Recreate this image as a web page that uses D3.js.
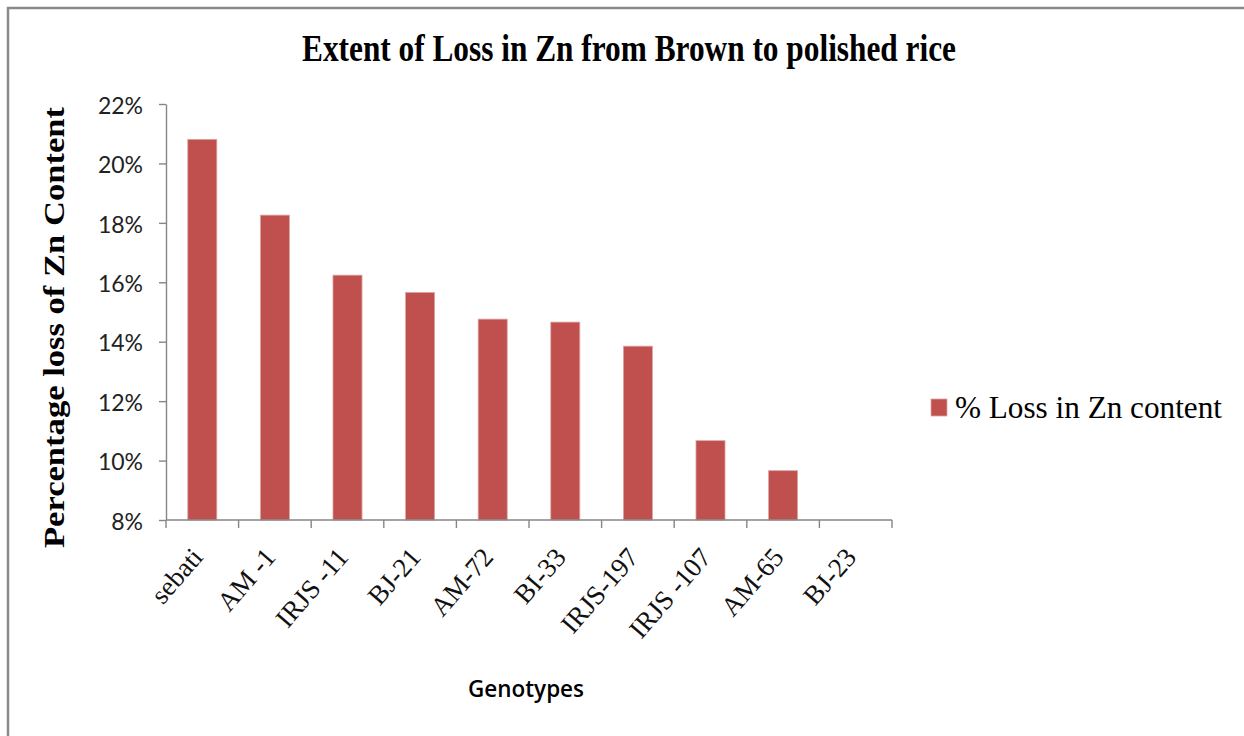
<!DOCTYPE html>
<html>
<head>
<meta charset="utf-8">
<script src="https://cdn.jsdelivr.net/npm/d3@7"></script>
<style>
  html, body { margin: 0; padding: 0; background: #ffffff; }
  svg { display: block; }
</style>
</head>
<body>
<svg id="chart" width="1244" height="736"></svg>
<script>
// Zn loss (%) for each rice genotype, brown -> polished
const genotypes = ["sebati", "AM -1", "IRJS -11", "BJ-21", "AM-72", "BI-33", "IRJS-197", "IRJS -107", "AM-65", "BJ-23"];
const lossValues = [20.81, 18.26, 16.24, 15.66, 14.76, 14.66, 13.85, 10.67, 9.66, 7.9];
const yTicks = [8, 10, 12, 14, 16, 18, 20, 22];

const chartTitle = "Extent of Loss in Zn from Brown to polished rice";
const yTitle = "Percentage loss of Zn Content";
const xTitle = "Genotypes";
const seriesName = "% Loss in Zn content";

const barColor = "#c0504d";
const axisColor = "#868686";

const svg = d3.select("#chart");

// outer frame (left and top edges)
svg.append("path")
  .attr("d", "M8,736 V8 H1244")
  .attr("fill", "none")
  .attr("stroke", "#8a8a8a")
  .attr("stroke-width", 2.5);

const plot = { left: 166, right: 892, top: 104, bottom: 520 };

const x = d3.scaleBand()
  .domain(genotypes)
  .range([plot.left, plot.right])
  .padding(0);

const y = d3.scaleLinear()
  .domain([8, 22])
  .range([plot.bottom, plot.top]);

// bars (clipped at the 8% floor)
const barW = x.bandwidth() * 0.4;
svg.append("g")
  .selectAll("rect")
  .data(genotypes.map((g, i) => ({ g, v: lossValues[i] })).filter(d => d.v > 8))
  .join("rect")
  .attr("x", d => x(d.g) + (x.bandwidth() - barW) / 2)
  .attr("y", d => y(d.v))
  .attr("width", barW)
  .attr("height", d => y(8) - y(d.v))
  .attr("fill", barColor)
  .attr("stroke", "#dca5a4")
  .attr("stroke-width", 0.8);

// y axis
const yAxis = d3.axisLeft(y)
  .tickValues(yTicks)
  .tickFormat(d => d + "%")
  .tickSize(7)
  .tickPadding(16)
  .tickSizeOuter(0);

const gy = svg.append("g")
  .attr("transform", `translate(${plot.left},0)`)
  .call(yAxis);
gy.select(".domain").attr("stroke", axisColor).attr("stroke-width", 1.4);
gy.selectAll(".tick line").attr("stroke", axisColor).attr("stroke-width", 1.4);
gy.selectAll(".tick text")
  .attr("fill", "#222")
  .attr("font-family", "Lato, 'Open Sans', sans-serif")
  .attr("font-size", 23)
  .attr("dy", "0.4em");

// x axis: line with ticks at category boundaries
const gx = svg.append("g");
gx.append("line")
  .attr("x1", plot.left).attr("x2", plot.right)
  .attr("y1", plot.bottom).attr("y2", plot.bottom)
  .attr("stroke", axisColor).attr("stroke-width", 1.4);
const boundaries = genotypes.map(g => x(g)).concat([plot.right]);
gx.selectAll("line.tk")
  .data(boundaries)
  .join("line")
  .attr("class", "tk")
  .attr("x1", d => d).attr("x2", d => d)
  .attr("y1", plot.bottom).attr("y2", plot.bottom + 8)
  .attr("stroke", axisColor).attr("stroke-width", 1.4);

gx.selectAll("text")
  .data(genotypes)
  .join("text")
  .attr("transform", g => `translate(${x(g) + x.bandwidth() / 2 + 2},${plot.bottom + 38}) rotate(-49)`)
  .attr("text-anchor", "end")
  .attr("font-family", "'Liberation Serif', 'Times New Roman', serif")
  .attr("font-size", 27)
  .attr("fill", "#111")
  .text(g => g);

// chart title
svg.append("text")
  .attr("x", 302)
  .attr("y", 61)
  .attr("textLength", 654)
  .attr("lengthAdjust", "spacingAndGlyphs")
  .attr("font-family", "'Liberation Serif', 'Times New Roman', serif")
  .attr("font-weight", "bold")
  .attr("font-size", 37)
  .attr("fill", "#000")
  .text(chartTitle);

// y axis title
svg.append("text")
  .attr("transform", "translate(64,548) rotate(-90)")
  .attr("x", 0)
  .attr("y", 0)
  .attr("textLength", 441)
  .attr("lengthAdjust", "spacingAndGlyphs")
  .attr("font-family", "'Liberation Serif', 'Times New Roman', serif")
  .attr("font-weight", "bold")
  .attr("font-size", 30)
  .attr("fill", "#000")
  .text(yTitle);

// x axis title
svg.append("text")
  .attr("x", 468)
  .attr("y", 697)
  .attr("textLength", 116)
  .attr("lengthAdjust", "spacingAndGlyphs")
  .attr("font-family", "'Open Sans', 'Noto Sans', sans-serif")
  .attr("font-weight", 600)
  .attr("font-size", 23)
  .attr("fill", "#000")
  .text(xTitle);

// legend
const lg = svg.append("g");
lg.append("rect")
  .attr("x", 931).attr("y", 399)
  .attr("width", 16).attr("height", 17)
  .attr("fill", barColor)
  .attr("stroke", "#dca5a4").attr("stroke-width", 0.8);
lg.append("text")
  .attr("x", 955)
  .attr("y", 418)
  .attr("textLength", 267)
  .attr("lengthAdjust", "spacingAndGlyphs")
  .attr("font-family", "'Liberation Serif', 'Times New Roman', serif")
  .attr("font-size", 31)
  .attr("fill", "#000")
  .text(seriesName);
</script>
</body>
</html>
